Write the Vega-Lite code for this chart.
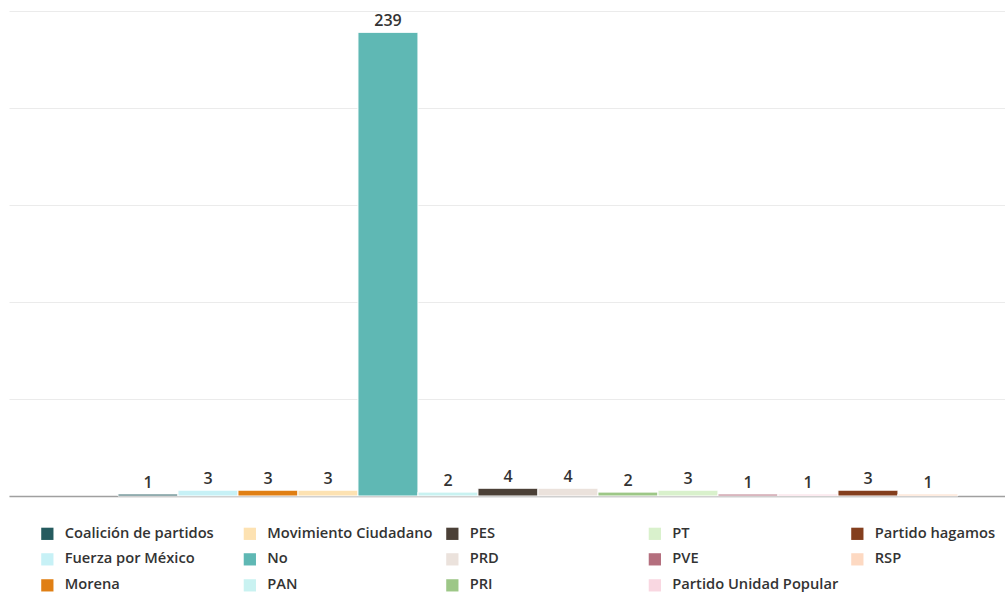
{
  "$schema": "https://vega.github.io/schema/vega-lite/v6.json",
  "width": 996,
  "height": 485,
  "padding": {"left": 9, "top": 11, "right": 0, "bottom": 0},
  "background": "white",
  "config": {
    "view": {"stroke": null},
    "font": "Open Sans"
  },
  "data": {
    "values": [
      {"partido": "Coalición de partidos", "n": 1},
      {"partido": "Fuerza por México", "n": 3},
      {"partido": "Morena", "n": 3},
      {"partido": "Movimiento Ciudadano", "n": 3},
      {"partido": "No", "n": 239},
      {"partido": "PAN", "n": 2},
      {"partido": "PES", "n": 4},
      {"partido": "PRD", "n": 4},
      {"partido": "PRI", "n": 2},
      {"partido": "PT", "n": 3},
      {"partido": "PVE", "n": 1},
      {"partido": "Partido Unidad Popular", "n": 1},
      {"partido": "Partido hagamos", "n": 3},
      {"partido": "RSP", "n": 1}
    ]
  },
  "encoding": {
    "x": {
      "field": "partido",
      "type": "nominal",
      "scale": {
        "domain": [" ", "Coalición de partidos", "Fuerza por México", "Morena", "Movimiento Ciudadano", "No", "PAN", "PES", "PRD", "PRI", "PT", "PVE", "Partido Unidad Popular", "Partido hagamos", "RSP"],
        "paddingInner": 0, "paddingOuter": 0.8, "align": 0.51
      },
      "axis": {"labels": false, "ticks": false, "title": null, "domainColor": "#a0a0a0", "domainWidth": 1.5, "grid": false}
    },
    "y": {
      "field": "n",
      "type": "quantitative",
      "scale": {"domain": [0, 250]},
      "axis": {"labels": false, "ticks": false, "domain": false, "title": null, "values": [0, 50, 100, 150, 200, 250], "gridColor": "#ebebeb", "gridWidth": 1}
    }
  },
  "layer": [
    {
      "mark": {"type": "bar", "stroke": "white", "strokeWidth": 1},
      "encoding": {
        "color": {
          "field": "partido",
          "type": "nominal",
          "scale": {
            "domain": ["Coalición de partidos", "Movimiento Ciudadano", "PES", "PT", "Partido hagamos", "Fuerza por México", "No", "PRD", "PVE", "RSP", "Morena", "PAN", "PRI", "Partido Unidad Popular"],
            "range": ["#255b5f", "#fde2b2", "#4b4037", "#d9f1cc", "#843f1e", "#c7f1f6", "#5fb8b4", "#ebe2dc", "#b46f7e", "#fdd9c2", "#e07f14", "#c9f2f1", "#9dc787", "#f9d7e1"]
          },
          "legend": {
            "title": null,
            "orient": "none",
            "legendX": 31,
            "legendY": 515,
            "direction": "horizontal",
            "columns": 5,
            "gridAlign": "all",
            "symbolType": "square",
            "symbolSize": 150,
            "symbolStrokeWidth": 0,
            "symbolOpacity": 1,
            "labelFontSize": 14.7,
            "labelFontWeight": 600,
            "labelColor": "#333333",
            "labelOffset": 10,
            "columnPadding": 11.5,
            "rowPadding": 10,
            "labelLimit": 300
          }
        }
      }
    },
    {
      "mark": {"type": "text", "baseline": "bottom", "dy": -3, "fontSize": 16, "fontWeight": 600, "color": "#333333"},
      "encoding": {
        "text": {"field": "n", "type": "quantitative"}
      }
    }
  ]
}
